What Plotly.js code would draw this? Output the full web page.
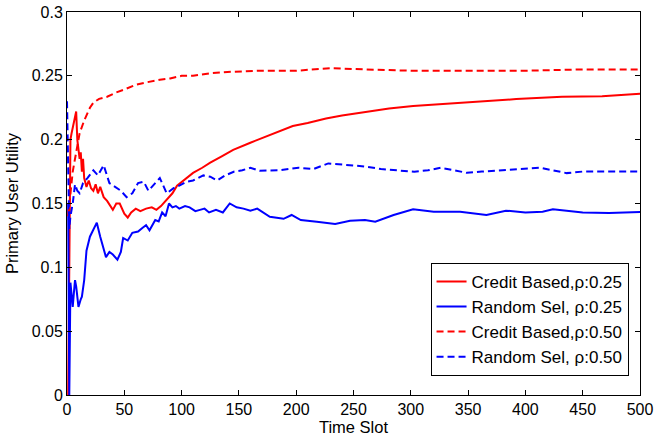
<!DOCTYPE html>
<html>
<head>
<meta charset="utf-8">
<script src="https://cdn.plot.ly/plotly-3.0.1.min.js"></script>
<style>html,body{margin:0;padding:0;background:#fff;}#chart{width:658px;height:437px;}</style>
</head>
<body>
<div id="chart"></div>
<script>
// Credit Based, rho 0.25 (red solid)
const creditX25 = [1,2,3,4,5,6,7,8,9,10,11,12,13,14,15,17,19,21,23,25,27,29,32,35,38,40,43,46,50,53,56,60,64,69,74,78,82,87,92,96,100,105,110,118,125,135,145,160,175,197,210,226,240,255,270,281,302,320,334,363,392,432,467,500];
const creditY25 = [0.0,0.12,0.2,0.205,0.21,0.215,0.218,0.222,0.2,0.19,0.185,0.19,0.175,0.185,0.17,0.163,0.168,0.162,0.16,0.165,0.158,0.163,0.155,0.152,0.148,0.145,0.15,0.15,0.142,0.139,0.143,0.146,0.144,0.146,0.147,0.145,0.148,0.153,0.158,0.164,0.167,0.171,0.174,0.178,0.182,0.187,0.192,0.1976,0.203,0.2107,0.213,0.2166,0.219,0.221,0.223,0.2245,0.2263,0.2275,0.2284,0.2302,0.2318,0.2336,0.2341,0.236];
// Random Sel, rho 0.25 (blue solid)
const randomX25 = [1,2,3,4,5,6,7,8,10,12,13,15,17,20,23,26,29,32,34,37,40,44,47,49,53,57,62,66,69,72,77,80,83,86,89,92,95,98,103,107,112,116,120,124,130,136,142,148,154,160,166,177,189,196,204,218,234,247,260,269,285,302,320,343,366,383,400,415,424,450,473,500];
const randomY25 = [0.15,0.0,0.088,0.08,0.069,0.08,0.09,0.085,0.069,0.075,0.077,0.09,0.113,0.124,0.129,0.135,0.124,0.115,0.108,0.112,0.11,0.106,0.112,0.123,0.121,0.127,0.128,0.131,0.133,0.129,0.137,0.136,0.143,0.14,0.15,0.147,0.148,0.146,0.148,0.147,0.144,0.145,0.146,0.143,0.145,0.143,0.15,0.147,0.146,0.1443,0.146,0.1396,0.138,0.141,0.137,0.1357,0.1339,0.1365,0.137,0.1357,0.141,0.1454,0.1436,0.1436,0.141,0.1444,0.143,0.1436,0.1454,0.143,0.1425,0.1433];
// Credit Based, rho 0.50 (red dashed)
const creditX50 = [1,3,5,8,11,15,20,23,28,35,43,52,60,70,81,90,100,110,125,140,168,200,230,260,300,350,400,450,500];
const creditY50 = [0.14,0.16,0.175,0.19,0.205,0.215,0.225,0.229,0.232,0.2336,0.237,0.24,0.243,0.245,0.247,0.248,0.25,0.25,0.252,0.253,0.254,0.254,0.256,0.255,0.254,0.254,0.254,0.255,0.255];
// Random Sel, rho 0.50 (blue dashed)
const randomX50 = [0,1,2,3,5,7,9,11,14,18,23,27,32,37,43,47,52,57,62,67,71,76,81,87,93,98,104,110,119,125,131,138,146,153,160,168,185,202,215,228,245,260,274,290,303,315,326,338,349,362,375,395,413,425,436,450,462,480,500];
const randomY50 = [0.23,0.19,0.13,0.14,0.15,0.165,0.16,0.158,0.166,0.17,0.176,0.172,0.18,0.166,0.162,0.16,0.155,0.158,0.166,0.167,0.16,0.165,0.17,0.158,0.162,0.164,0.167,0.168,0.172,0.171,0.168,0.172,0.175,0.176,0.178,0.1757,0.176,0.178,0.177,0.1814,0.18,0.179,0.177,0.176,0.1749,0.176,0.178,0.176,0.174,0.175,0.176,0.177,0.178,0.176,0.1738,0.175,0.175,0.175,0.175];

const legendNames = ["Credit Based,\u03c1:0.25", "Random Sel, \u03c1:0.25", "Credit Based,\u03c1:0.50", "Random Sel, \u03c1:0.50"];
const xTicks = [0,50,100,150,200,250,300,350,400,450,500];
const yTicks = [0,0.05,0.1,0.15,0.2,0.25,0.3];
const yTickText = ["0","0.05","0.1","0.15","0.2","0.25","0.3"];

const traces = [
  {x: creditX25, y: creditY25, name: legendNames[0], mode: 'lines', line: {color: '#ff0000', width: 2}},
  {x: randomX25, y: randomY25, name: legendNames[1], mode: 'lines', line: {color: '#0000ff', width: 2}},
  {x: creditX50, y: creditY50, name: legendNames[2], mode: 'lines', line: {color: '#ff0000', width: 2, dash: '7px,4px'}},
  {x: randomX50, y: randomY50, name: legendNames[3], mode: 'lines', line: {color: '#0000ff', width: 2, dash: '7px,4px'}}
];

const FONT = 'Liberation Sans, Arial, sans-serif';
const axisCommon = {
  showgrid: false, zeroline: false, showline: true, linecolor: '#000', linewidth: 1,
  mirror: 'ticks', ticks: 'inside', ticklen: 5, tickcolor: '#000',
  tickfont: {family: FONT, size: 16, color: '#000'}
};

const layout = {
  width: 658, height: 437,
  margin: {l: 67, r: 18, t: 12, b: 42},
  paper_bgcolor: '#fff', plot_bgcolor: '#fff',
  font: {family: FONT, size: 16, color: '#000'},
  showlegend: true,
  legend: {x: 0.98, y: 0.05, xanchor: 'right', yanchor: 'bottom', bordercolor: '#000', borderwidth: 1, bgcolor: '#fff', font: {family: FONT, size: 17, color: '#000'}, tracegroupgap: 0},
  xaxis: Object.assign({}, axisCommon, {range: [0, 500], tickvals: xTicks, ticktext: xTicks.map(String), title: {text: 'Time Slot', standoff: 0, font: {family: FONT, size: 16.5}}}),
  yaxis: Object.assign({}, axisCommon, {range: [0, 0.3], tickvals: yTicks, ticktext: yTickText, title: {text: 'Primary User Utility', standoff: 8, font: {family: FONT, size: 16.5}}})
};

Plotly.newPlot('chart', traces, layout, {displayModeBar: false, staticPlot: true});
</script>
</body>
</html>
